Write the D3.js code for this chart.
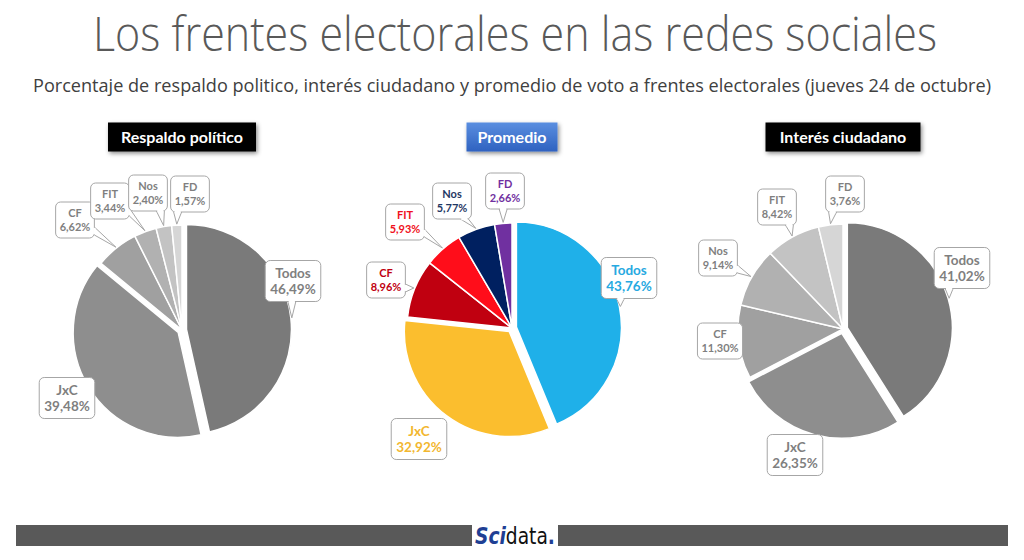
<!DOCTYPE html>
<html><head><meta charset="utf-8">
<script src="https://cdn.jsdelivr.net/npm/d3@7"></script>
<style>
html,body{margin:0;padding:0;background:#fff;}
svg{display:block;}
</style></head>
<body>
<svg id="chart" width="1024" height="560"></svg>
<script>
// ---------- DATA ----------
const titleText = "Los frentes electorales en las redes sociales";
const subtitleText = "Porcentaje de respaldo politico, interés ciudadano y promedio de voto a frentes electorales (jueves 24 de octubre)";

const respaldoTitle = "Respaldo político";
const respaldoCategories = ["Todos", "JxC", "CF", "FIT", "Nos", "FD"];
const respaldoValues = [46.49, 39.48, 6.62, 3.44, 2.40, 1.57];

const promedioTitle = "Promedio";
const promedioCategories = ["Todos", "JxC", "CF", "FIT", "Nos", "FD"];
const promedioValues = [43.76, 32.92, 8.96, 5.93, 5.77, 2.66];

const interesTitle = "Interés ciudadano";
const interesCategories = ["Todos", "JxC", "CF", "Nos", "FIT", "FD"];
const interesValues = [41.02, 26.35, 11.30, 9.14, 8.42, 3.76];

// ---------- STYLE / LAYOUT ----------
const grayRamp = ["#7a7a7a", "#8e8e8e", "#a0a0a0", "#b1b1b1", "#c3c3c3", "#d6d6d6"];
const partyColors = {Todos:"#1fb0e9", JxC:"#fbbe2e", CF:"#c00010", FIT:"#ff0d1a", Nos:"#002060", FD:"#7030a0"};
const partyTextColors = {Todos:"#27a9e1", JxC:"#f2b730", CF:"#c00010", FIT:"#f01020", Nos:"#1f3864", FD:"#7030a0"};
// label box centers relative to each pie centre (layout only)
const respaldoLabelPos = [[111,-49],[-115,68],[-107,-110],[-72,-129],[-34,-137],[8,-136]];
const promedioLabelPos = [[117,-50],[-93,111],[-126,-48],[-107,-106],[-60,-127],[-7,-137]];
const interesLabelPos  = [[119,-61],[-48,126],[-123,12],[-125,-71],[-66,-122],[2,-135]];

const svg = d3.select("#chart");
const defs = svg.append("defs");
const sh = defs.append("filter").attr("id","shadow").attr("x","-20%").attr("y","-30%").attr("width","140%").attr("height","170%");
sh.append("feDropShadow").attr("dx",1.5).attr("dy",2).attr("stdDeviation",2).attr("flood-color","#000").attr("flood-opacity",0.45);
const grad = defs.append("linearGradient").attr("id","blueGrad").attr("x1",0).attr("y1",0).attr("x2",0).attr("y2",1);
grad.append("stop").attr("offset","0%").attr("stop-color","#5a8ee0");
grad.append("stop").attr("offset","100%").attr("stop-color","#2f62c0");

// ---------- HEADINGS ----------
svg.append("text").attr("x",515).attr("y",51).attr("text-anchor","middle")
  .attr("font-family","'Open Sans', Lato, sans-serif").attr("font-weight",300)
  .attr("font-size",47).attr("fill","#595959")
  .attr("textLength",844).attr("lengthAdjust","spacingAndGlyphs").text(titleText);
svg.append("text").attr("x",512).attr("y",92).attr("text-anchor","middle")
  .attr("font-family","'Open Sans', Lato, sans-serif").attr("font-size",18).attr("fill","#404040")
  .attr("textLength",958).attr("lengthAdjust","spacingAndGlyphs").text(subtitleText);

// ---------- FOOTER ----------
svg.append("rect").attr("x",16).attr("y",525).attr("width",992).attr("height",21).attr("fill","#595959");
svg.append("rect").attr("x",472).attr("y",525).attr("width",86).attr("height",21).attr("fill","#ffffff");
const logoG = svg.append("g");
const logo = logoG.append("text").attr("x",0).attr("y",0)
  .attr("font-family","'DejaVu Sans Condensed','Liberation Sans Narrow',sans-serif").attr("font-size",23);
logo.append("tspan").attr("fill","#1f3f94").attr("font-style","italic").attr("font-weight","bold").text("Sci");
logo.append("tspan").attr("fill","#111").text("data");
logo.append("tspan").attr("fill","#1f3f94").attr("font-weight","bold").text(".");
{
  const bb = logo.node().getBBox();
  const sx = 80 / bb.width;
  logoG.attr("transform",`translate(${475 - bb.x*sx},544) scale(${sx},1)`);
}

const fmt = v => d3.format(".2f")(v).replace(".", ",") + "%";

function drawPie(opts) {
  const {cx, cy, r, cats, vals, colorFn, textColorFn, labelPos, title, titleFill, titleW} = opts;
  const g = svg.append("g");
  // section title box
  const tb = g.append("g").attr("transform",`translate(${cx},137)`);
  tb.append("rect").attr("x",-titleW/2).attr("y",-14.5).attr("width",titleW).attr("height",29)
    .attr("fill",titleFill).attr("filter","url(#shadow)");
  tb.append("text").attr("y",5.5).attr("text-anchor","middle").attr("fill","#fff")
    .attr("font-family","Lato, 'Open Sans', sans-serif").attr("font-weight","bold").attr("font-size",16)
    .text(title);

  const data = cats.map((c,i)=>({cat:c, value:vals[i], idx:i}));
  const pie = d3.pie().sort(null).value(d=>d.value);
  const arcs = pie(data);
  const arc = d3.arc().innerRadius(0).outerRadius(r);
  const explode = 4.5;
  const pg = g.append("g").attr("transform",`translate(${cx},${cy})`);
  arcs.forEach(a => {
    const mid = (a.startAngle + a.endAngle)/2;
    const e = a.index < 2 ? explode : 0;
    a.off = [Math.sin(mid)*e, -Math.cos(mid)*e];
    a.mid = mid;
  });
  pg.selectAll("path.slice").data(arcs).enter().append("path").attr("class","slice")
    .attr("transform",d=>`translate(${d.off[0]},${d.off[1]})`)
    .attr("d",arc).attr("fill",d=>colorFn(d.data, d.index))
    .attr("stroke","#fff").attr("stroke-width",1.5).attr("stroke-linejoin","round");

  // labels
  arcs.forEach(a => {
    const big = a.index < 2;
    const fs = big ? 13.5 : 11;
    const lh = big ? 16 : 13.5;
    const [lx, ly] = labelPos[a.index];
    const lg = pg.append("g");
    const tcol = textColorFn(a.data, a.index);
    const t = lg.append("text").attr("text-anchor","middle")
      .attr("font-family","Lato, 'Open Sans', sans-serif").attr("font-weight","bold")
      .attr("font-size",fs).attr("fill",tcol);
    t.append("tspan").attr("x",lx).attr("y",ly - lh/2 + fs*0.36).text(a.data.cat);
    t.append("tspan").attr("x",lx).attr("y",ly + lh/2 + fs*0.36).text(fmt(a.data.value));
    const tw = t.node().getBBox().width;
    const w = tw + (big ? 10 : 8), h = big ? 41 : 36;
    const x0 = lx - w/2, x1 = lx + w/2, y0 = ly - h/2, y1 = ly + h/2;
    const A = [a.off[0] + Math.sin(a.mid)*(r+1), a.off[1] - Math.cos(a.mid)*(r+1)];
    const clx = Math.max(x0, Math.min(x1, A[0])), cly = Math.max(y0, Math.min(y1, A[1]));
    const dx = A[0]-clx, dy = A[1]-cly;
    lg.insert("rect","text").attr("x",x0).attr("y",y0).attr("width",w).attr("height",h)
      .attr("rx",5).attr("fill","#fff").attr("stroke","#a6a6a6").attr("stroke-width",1);
    if (Math.hypot(dx,dy) > 3) {
      let b1, b2;
      const hw = 4;
      if (Math.abs(dy) >= Math.abs(dx)) {
        const ey = dy > 0 ? y1 : y0;
        const bx = Math.max(x0+7, Math.min(x1-7, A[0] - dx*0.3));
        b1 = [bx-hw, ey]; b2 = [bx+hw, ey];
      } else {
        const ex = dx > 0 ? x1 : x0;
        const by = Math.max(y0+7, Math.min(y1-7, A[1] - dy*0.3));
        b1 = [ex, by-hw]; b2 = [ex, by+hw];
      }
      lg.insert("path","rect").attr("d",d3.line()([b1, A, b2]))
        .attr("fill","#fff").attr("stroke","#a6a6a6").attr("stroke-width",1);
      const cmx = (b1[0]+b2[0])/2, cmy = (b1[1]+b2[1])/2;
      const s = 0.78;
      const c1 = [cmx + (b1[0]-cmx)*s, cmy + (b1[1]-cmy)*s], c2 = [cmx + (b2[0]-cmx)*s, cmy + (b2[1]-cmy)*s];
      lg.insert("path","text").attr("d",d3.line()([c1,c2])).attr("stroke","#fff").attr("stroke-width",2.4);
    }
  });
}

drawPie({cx:182, cy:330, r:105, cats:respaldoCategories, vals:respaldoValues,
  colorFn:(d,i)=>grayRamp[i], textColorFn:()=>"#7f7f7f", labelPos:respaldoLabelPos,
  title:respaldoTitle, titleFill:"#000", titleW:148});
drawPie({cx:512, cy:328, r:105, cats:promedioCategories, vals:promedioValues,
  colorFn:d=>partyColors[d.cat], textColorFn:d=>partyTextColors[d.cat], labelPos:promedioLabelPos,
  title:promedioTitle, titleFill:"url(#blueGrad)", titleW:91});
drawPie({cx:843, cy:329, r:105, cats:interesCategories, vals:interesValues,
  colorFn:(d,i)=>grayRamp[i], textColorFn:()=>"#7f7f7f", labelPos:interesLabelPos,
  title:interesTitle, titleFill:"#000", titleW:155});
</script>
</body></html>
